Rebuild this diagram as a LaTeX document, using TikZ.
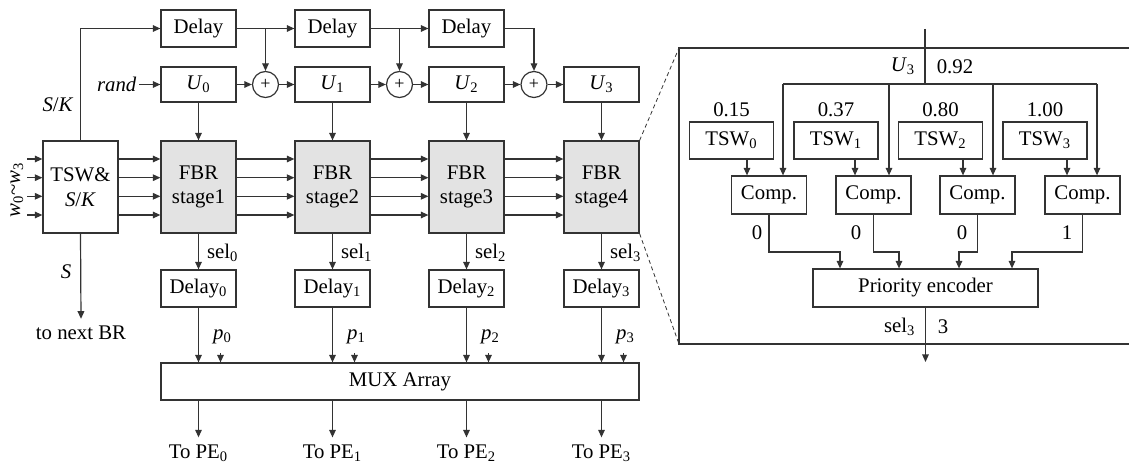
\documentclass[tikz,border=0pt]{standalone}
\usepackage{fontspec}
\setmainfont{Liberation Serif}
\usetikzlibrary{arrows.meta}
\begin{document}
\begin{tikzpicture}[x=0.5pt,y=-0.5pt,
  font=\fontsize{10.4}{12.2}\selectfont,
  line width=0.6pt, draw=black!80,
  blk/.style={draw=black!80, inner sep=0pt, minimum width=37.5pt, minimum height=18.5pt},
  fbr/.style={blk, fill=gray!22, minimum height=46pt, align=center},
  tswb/.style={blk, minimum width=42pt},
  adder/.style={circle, draw=black!80, minimum size=13pt, inner sep=0pt, font=\fontsize{9}{9}\selectfont},
  arr/.style={-{Triangle[length=3.8pt,width=3.3pt]}},
  zoomline/.style={line width=0.4pt, dash pattern=on 2pt off 1.5pt}
]
\useasboundingbox (0,0) rectangle (1129,465);

% ---------- delay chain on top ----------
\node[blk] (d0) at (198.5,28.5) {Delay};
\node[blk] (d1) at (332.5,28.5) {Delay};
\node[blk] (d2) at (466.5,28.5) {Delay};

% ---------- random values and adders ----------
\node[blk, minimum height=17.5pt] (u0) at (198.5,84.5) {\textit{U}\textsubscript{0}};
\node[blk, minimum height=17.5pt] (u1) at (332.5,84.5) {\textit{U}\textsubscript{1}};
\node[blk, minimum height=17.5pt] (u2) at (466.5,84.5) {\textit{U}\textsubscript{2}};
\node[blk, minimum height=17.5pt] (u3) at (601.5,84.5) {\textit{U}\textsubscript{3}};
\node[adder] (a1) at (265.5,84.5) {+};
\node[adder] (a2) at (399.5,84.5) {+};
\node[adder] (a3) at (534,84.5) {+};
\node[anchor=east, inner sep=1pt] (rand) at (139,84.5) {\textit{rand}};

% ---------- main stages ----------
\node[fbr, fill=white] (t) at (80.5,187) {TSW\&\\\textit{S}/\textit{K}};
\node[fbr] (f0) at (198.5,187) {FBR\\stage1};
\node[fbr] (f1) at (332.5,187) {FBR\\stage2};
\node[fbr] (f2) at (466.5,187) {FBR\\stage3};
\node[fbr] (f3) at (601.5,187) {FBR\\stage4};

% ---------- select delays and MUX ----------
\node[blk] (q0) at (198.5,288.5) {Delay\textsubscript{0}};
\node[blk] (q1) at (332.5,288.5) {Delay\textsubscript{1}};
\node[blk] (q2) at (466.5,288.5) {Delay\textsubscript{2}};
\node[blk] (q3) at (601.5,288.5) {Delay\textsubscript{3}};
\node[blk, minimum width=239pt] (mux) at (400,381.5) {MUX Array};

\node (pe0) at (198.5,453) {To PE\textsubscript{0}};
\node (pe1) at (332.5,453) {To PE\textsubscript{1}};
\node (pe2) at (466.5,453) {To PE\textsubscript{2}};
\node (pe3) at (601.5,453) {To PE\textsubscript{3}};
\node (nbr) at (81,333) {to next BR};

% ---------- labels ----------
\node (lsk) at (58,105) {\textit{S}/\textit{K}};
\node (ls) at (66,272) {\textit{S}};
\node[rotate=90] (lw) at (17,190) {\textit{w}\textsubscript{0}\textasciitilde\textit{w}\textsubscript{3}};
\foreach \i/\c in {0/198.5,1/332.5,2/466.5,3/601.5}{
  \node[anchor=west, inner sep=0pt] (sl\i) at (\c+8,253) {sel\textsubscript{\i}};
  \node (pl\i) at (\c+24,337) {\textit{p}\textsubscript{\i}};
  \coordinate (pt\i) at (\c+22,353);
}

% ---------- connectors: delay chain ----------
\draw[arr] (t.north) |- (d0.west);
\draw[arr] (d0.east) -- (d1.west);
\draw[arr] (d0.east -| a1) -- (a1.north);
\draw[arr] (d1.east) -- (d2.west);
\draw[arr] (d1.east -| a2) -- (a2.north);
\draw[arr] (d2.east) -| (a3.north);

% ---------- connectors: adders ----------
\draw[arr] (rand.east) -- (u0.west);
\draw[arr] (u0.east) -- (a1.west);
\draw[arr] (a1.east) -- (u1.west);
\draw[arr] (u1.east) -- (a2.west);
\draw[arr] (a2.east) -- (u2.west);
\draw[arr] (u2.east) -- (a3.west);
\draw[arr] (a3.east) -- (u3.west);

% ---------- connectors: data buses ----------
\foreach \k/\yy in {1/159,2/177.7,3/196.3,4/215}{
  \coordinate (in\k) at (27,\yy);
  \draw[arr] (in\k) -- (in\k -| t.west);
  \draw[arr] (in\k -| t.east) -- (in\k -| f0.west);
  \draw[arr] (in\k -| f0.east) -- (in\k -| f1.west);
  \draw[arr] (in\k -| f1.east) -- (in\k -| f2.west);
  \draw[arr] (in\k -| f2.east) -- (in\k -| f3.west);
}
\draw[arr] (t.south) -- (nbr.north);

\foreach \i in {0,1,2,3}{
  \draw[arr] (u\i.south) -- (f\i.north);
  \draw[arr] (f\i.south) -- (q\i.north);
  \draw[arr] (q\i.south) -- (q\i.south |- mux.north);
  \draw[arr] (pt\i) -- (pt\i |- mux.north);
  \draw[arr] (mux.south -| pe\i) -- (pe\i.north);
}

% ---------- magnified view of stage 4 ----------
\coordinate (ptl) at (679,48);
\coordinate (pbl) at (679,344);
\coordinate (ptr) at (1129,48);
\coordinate (pbr) at (1129,344);
\draw[zoomline] (f3.north east) -- (ptl);
\draw[zoomline] (f3.south east) -- (pbl);
\draw (ptr) -- (ptl) -- (pbl) -- (pbr);

\node[tswb] (w0) at (731.5,140.5) {TSW\textsubscript{0}};
\node[tswb] (w1) at (836,140.5) {TSW\textsubscript{1}};
\node[tswb] (w2) at (940.5,140.5) {TSW\textsubscript{2}};
\node[tswb] (w3) at (1045,140.5) {TSW\textsubscript{3}};
\node (v0) at (731.5,110) {0.15};
\node (v1) at (836,110) {0.37};
\node (v2) at (940.5,110) {0.80};
\node (v3) at (1045,110) {1.00};

\node[blk, minimum height=19pt] (c0) at (769,195) {Comp.};
\node[blk, minimum height=19pt] (c1) at (873.5,195) {Comp.};
\node[blk, minimum height=19pt] (c2) at (977.5,195) {Comp.};
\node[blk, minimum height=19pt] (c3) at (1082.5,195) {Comp.};
\node[blk, minimum width=112.5pt, minimum height=19pt] (enc) at (925.5,288) {Priority encoder};

\node (lu3) at (903,66) {\textit{U}\textsubscript{3}};
\node (l092) at (955,67) {0.92};
\node (o0) at (757,233) {0};
\node (o1) at (856,233) {0};
\node (o2) at (962,233) {0};
\node (o3) at (1067,233) {1};
\node[anchor=east, inner sep=1pt] (lsel) at (918,327) {sel\textsubscript{3}};
\node (l3) at (943,327) {3};

% threshold bus
\coordinate (utop) at (925,29);
\coordinate (ubus) at (925,84);
\coordinate (b0) at (783,84);
\coordinate (b1) at (889,84);
\coordinate (b2) at (993,84);
\coordinate (b3) at (1097,84);
\draw (utop) -- (ubus);
\draw (b0) -- (b3);
\foreach \i in {0,1,2,3}{
  \draw[arr] (b\i) -- (b\i |- c\i.north);
}
% TSW values into comparators
\coordinate (k0) at (747,0);
\coordinate (k1) at (855,0);
\coordinate (k2) at (963,0);
\coordinate (k3) at (1067,0);
\foreach \i in {0,1,2,3}{
  \draw[arr] (w\i.south -| k\i) -- (c\i.north -| k\i);
}
% comparator results into the encoder
\coordinate (e0) at (840,252);
\coordinate (e1) at (899,252);
\coordinate (e2) at (959,252);
\coordinate (e3) at (1012,252);
\foreach \i in {0,1,2,3}{
  \draw[arr] (c\i.south) |- (e\i) -- (e\i |- enc.north);
}
\coordinate (sout) at (925.5,362);
\draw[arr] (enc.south) -- (sout);
\end{tikzpicture}
\end{document}
